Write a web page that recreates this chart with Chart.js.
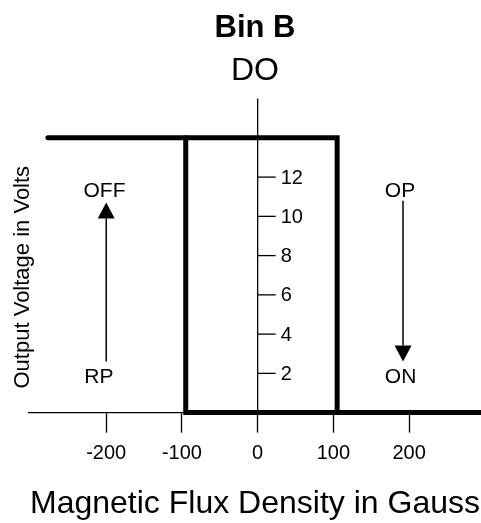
<!DOCTYPE html>
<html>
<head>
<meta charset="utf-8">
<script src="https://cdn.jsdelivr.net/npm/chart.js@4.4.1/dist/chart.umd.min.js"></script>
<style>
  html, body { margin: 0; padding: 0; background: #fff; }
  canvas { display: block; }
</style>
</head>
<body>
<canvas id="chart" width="481" height="523"></canvas>
<script>
const chartTitle = "Bin B";
const chartSubtitle = "DO";
const xTitle = "Magnetic Flux Density in Gauss";
const yTitle = "Output Voltage in Volts";

const xTicks = [-200, -100, 0, 100, 200];
const yTicks = [2, 4, 6, 8, 10, 12];

// output switching curve (gauss, volts)
const offBranchX = [-277, 105, 105, 295];
const offBranchY = [14, 14, 0, 0];
const onBranchX = [-95, -95, 105];
const onBranchY = [14, 0, 0];

// transition arrows: release point goes up to OFF, operate point goes down to ON
const arrowX = [-200, 192];
const arrowFrom = [2.6, 10.8];
const arrowTo = [10.7, 2.6];

const noteText = ["OFF", "RP", "OP", "ON"];
const noteX = [-230, -229, 168, 168];
const noteY = [11.35, 1.85, 11.35, 1.85];

const FONT = "'Liberation Sans', Arial, Helvetica, sans-serif";
Chart.defaults.font.family = FONT;
Chart.defaults.color = "#000";

function toPoints(xs, ys) {
    return xs.map((x, i) => ({ x: x, y: ys[i] }));
}

const drawExtras = {
    id: "drawExtras",
    afterDatasetsDraw(chart) {
        const ctx = chart.ctx;
        const xs = chart.scales.x;
        const ys = chart.scales.y;
        const x0 = xs.getPixelForValue(0);

        ctx.save();
        ctx.strokeStyle = "#000";
        ctx.fillStyle = "#000";

        // vertical axis at 0 gauss
        ctx.lineWidth = 1.3;
        ctx.beginPath();
        ctx.moveTo(x0, ys.getPixelForValue(0));
        ctx.lineTo(x0, ys.getPixelForValue(ys.max));
        ctx.stroke();

        ctx.font = "20px " + FONT;
        ctx.textAlign = "left";
        ctx.textBaseline = "middle";
        yTicks.forEach(v => {
            const py = ys.getPixelForValue(v);
            ctx.beginPath();
            ctx.moveTo(x0, py);
            ctx.lineTo(x0 + 18, py);
            ctx.stroke();
            ctx.fillText(String(v), x0 + 23, py + 1);
        });

        // arrows
        ctx.lineWidth = 1.5;
        arrowX.forEach((gx, i) => {
            const px = xs.getPixelForValue(gx);
            const p1 = ys.getPixelForValue(arrowFrom[i]);
            const p2 = ys.getPixelForValue(arrowTo[i]);
            const dir = p2 < p1 ? -1 : 1;
            const headLen = 16;
            ctx.beginPath();
            ctx.moveTo(px, p1);
            ctx.lineTo(px, p2 - dir * headLen);
            ctx.stroke();
            ctx.beginPath();
            ctx.moveTo(px, p2);
            ctx.lineTo(px - 8.5, p2 - dir * headLen);
            ctx.lineTo(px + 8.5, p2 - dir * headLen);
            ctx.closePath();
            ctx.fill();
        });

        ctx.font = "21px " + FONT;
        noteText.forEach((t, i) => {
            ctx.fillText(t, xs.getPixelForValue(noteX[i]), ys.getPixelForValue(noteY[i]) + 1);
        });

        // y axis title
        ctx.font = "22px " + FONT;
        ctx.textAlign = "center";
        ctx.translate(chart.chartArea.left - 6, ys.getPixelForValue(6.9));
        ctx.rotate(-Math.PI / 2);
        ctx.fillText(yTitle, 0, 0);
        ctx.restore();
    }
};

const lineStyle = {
    showLine: true,
    borderColor: "#000",
    borderWidth: 5,
    borderJoinStyle: "miter",
    borderCapStyle: "round",
    pointRadius: 0,
    tension: 0,
    clip: false
};

new Chart(document.getElementById("chart"), {
    type: "scatter",
    data: {
        datasets: [
            Object.assign({ data: toPoints(offBranchX, offBranchY) }, lineStyle),
            Object.assign({ data: toPoints(onBranchX, onBranchY) }, lineStyle)
        ]
    },
    options: {
        responsive: false,
        animation: false,
        devicePixelRatio: 1,
        layout: { padding: { left: 29, right: 0, top: 0, bottom: 0 } },
        plugins: {
            legend: { display: false },
            tooltip: { enabled: false },
            title: {
                display: true,
                text: chartTitle,
                color: "#000",
                font: { size: 31, weight: "bold" },
                padding: { top: 10, bottom: 0 }
            },
            subtitle: {
                display: true,
                text: chartSubtitle,
                color: "#000",
                font: { size: 32, weight: "normal" },
                padding: { top: 5, bottom: 8 }
            }
        },
        scales: {
            x: {
                type: "linear",
                position: "bottom",
                min: -302,
                max: 295,
                afterBuildTicks: s => { s.ticks = xTicks.map(v => ({ value: v })); },
                grid: {
                    display: true,
                    drawOnChartArea: false,
                    drawTicks: true,
                    tickLength: 20,
                    color: "#000",
                    tickColor: "#000",
                    tickWidth: 1.3
                },
                border: { display: true, color: "#000", width: 1.3 },
                ticks: {
                    color: "#000",
                    font: { size: 20 },
                    padding: 9,
                    maxRotation: 0,
                    autoSkip: false
                },
                title: {
                    display: true,
                    text: xTitle,
                    color: "#000",
                    font: { size: 32 },
                    padding: { top: 10, bottom: 0 }
                }
            },
            y: {
                type: "linear",
                min: 0,
                max: 16,
                display: false
            }
        }
    },
    plugins: [drawExtras]
});
</script>
</body>
</html>
